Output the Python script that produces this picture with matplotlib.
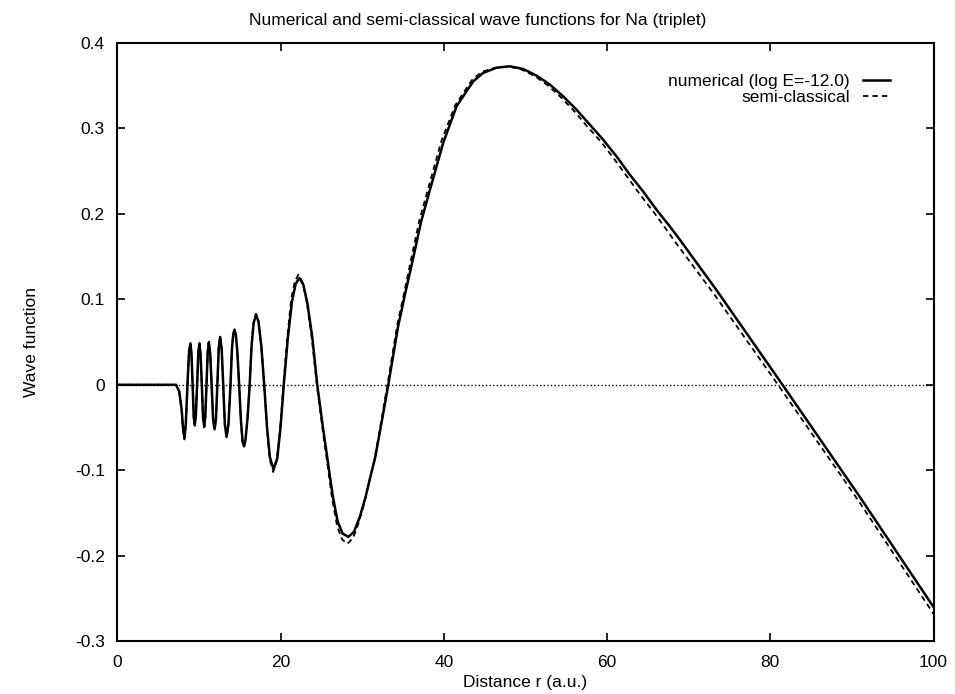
import matplotlib
matplotlib.use("Agg")
import matplotlib.pyplot as plt

plt.rcParams["font.family"] = ["Liberation Sans", "DejaVu Sans"]
plt.rcParams["font.size"] = 12.5

# numerical wave function (r in a.u.)
r_num = [0, 7.2, 7.6, 7.9, 8.05, 8.23, 8.4, 8.6, 8.8, 8.97, 9.1, 9.23, 9.37, 9.50,
         9.63, 9.78, 9.93, 10.07, 10.2, 10.36, 10.51, 10.65, 10.79, 10.93, 11.08,
         11.22, 11.38, 11.56, 11.74, 11.92, 12.09, 12.26, 12.43, 12.60, 12.79, 12.98,
         13.18, 13.39, 13.62, 13.87, 14.05, 14.22, 14.37, 14.52, 14.7, 14.93, 15.15,
         15.35, 15.52, 15.7, 15.95, 16.22, 16.45, 16.7, 16.99, 17.3, 17.65, 18.0,
         18.35, 18.7, 19.15, 19.6, 20.0, 20.4, 20.9, 21.4, 21.85, 22.3, 22.8, 23.3,
         23.9, 24.5, 25.2, 25.8, 26.4, 27.0, 27.6, 28.3, 29.0, 29.7, 30.4, 31.0, 31.6,
         32.4, 33.2, 34.4, 35.3, 36.2, 37.2, 38.3, 39.93, 41.57, 43.6, 44.83, 46.47,
         48.1, 49.72, 51.37, 53.0, 54.62, 56.26, 57.89, 59.52, 61.16, 62.79, 64.42,
         66.06, 67.69, 68.92, 73.4, 81.5, 90.96, 100]
psi_num = [0, 0, -0.008, -0.03, -0.05, -0.062, -0.045, 0.0, 0.04, 0.048, 0.035, 0.0,
           -0.038, -0.047, -0.035, 0.0, 0.038, 0.048, 0.036, 0.0, -0.038, -0.049,
           -0.036, 0.0, 0.038, 0.0495, 0.037, 0.0, -0.04, -0.052, -0.04, 0.0, 0.043,
           0.056, 0.042, 0.0, -0.046, -0.061, -0.046, 0.0, 0.042, 0.06, 0.064, 0.059,
           0.04, 0.0, -0.042, -0.066, -0.072, -0.065, -0.04, 0.0, 0.045, 0.072,
           0.082, 0.074, 0.045, 0.0, -0.05, -0.085, -0.099, -0.086, -0.05, 0.0, 0.055,
           0.097, 0.118, 0.125, 0.117, 0.095, 0.055, 0.0, -0.05, -0.09, -0.13, -0.16,
           -0.174, -0.178, -0.172, -0.155, -0.132, -0.108, -0.085, -0.043, 0.0,
           0.068, 0.108, 0.146, 0.19, 0.228, 0.283, 0.326, 0.355, 0.365, 0.371,
           0.3727, 0.3696, 0.3618, 0.3513, 0.3376, 0.322, 0.3044, 0.2869, 0.2673,
           0.2459, 0.2263, 0.2049, 0.1854, 0.1698, 0.111, 0.0, -0.131, -0.260]

# semi-classical approximation
r_semi = [0, 7.2, 7.6, 7.9, 8.05, 8.23, 8.4, 8.6, 8.8, 8.97, 9.1, 9.23, 9.37, 9.50,
          9.63, 9.78, 9.93, 10.07, 10.2, 10.36, 10.51, 10.65, 10.79, 10.93, 11.08,
          11.22, 11.38, 11.56, 11.74, 11.92, 12.09, 12.26, 12.43, 12.60, 12.79, 12.98,
          13.18, 13.39, 13.62, 13.87, 14.05, 14.22, 14.37, 14.52, 14.7, 14.93, 15.15,
          15.35, 15.52, 15.7, 15.95, 16.22, 16.45, 16.7, 16.99, 17.3, 17.65, 18.0,
          18.35, 18.7, 19.1, 19.55, 19.95, 20.35, 20.85, 21.3, 21.75, 22.2, 22.7,
          23.2, 23.8, 24.45, 25.15, 25.75, 26.35, 26.95, 27.55, 28.2, 28.9, 29.6,
          30.3, 30.9, 31.5, 32.3, 33.1, 34.3, 35.2, 36.0, 37.0, 38.1, 39.7, 41.4,
          43.4, 44.6, 46.3, 47.9, 49.5, 51.2, 52.8, 54.4, 56.0, 57.6, 59.3, 60.9,
          62.5, 64.1, 65.8, 67.4, 68.6, 73.2, 80.95, 90.9, 100]
psi_semi = [0, 0, -0.009, -0.032, -0.052, -0.064, -0.046, 0.0, 0.041, 0.049, 0.036,
            0.0, -0.039, -0.048, -0.036, 0.0, 0.039, 0.049, 0.037, 0.0, -0.039, -0.05,
            -0.037, 0.0, 0.039, 0.0505, 0.038, 0.0, -0.041, -0.053, -0.041, 0.0, 0.044,
            0.057, 0.043, 0.0, -0.047, -0.062, -0.047, 0.0, 0.043, 0.061, 0.065, 0.06,
            0.041, 0.0, -0.043, -0.067, -0.073, -0.066, -0.041, 0.0, 0.046, 0.073,
            0.083, 0.075, 0.046, 0.0, -0.052, -0.088, -0.102, -0.088, -0.052, 0.0,
            0.057, 0.1, 0.121, 0.129, 0.12, 0.098, 0.057, 0.0, -0.052, -0.093, -0.135,
            -0.166, -0.181, -0.186, -0.179, -0.161, -0.137, -0.112, -0.088, -0.045,
            0.0, 0.07, 0.11, 0.147, 0.192, 0.230, 0.285, 0.327, 0.356, 0.366, 0.371,
            0.3725, 0.369, 0.361, 0.350, 0.336, 0.320, 0.302, 0.284, 0.264, 0.243,
            0.222, 0.201, 0.180, 0.164, 0.105, 0.0, -0.137, -0.268]

x_ticks = [0, 20, 40, 60, 80, 100]
y_ticks = [-0.3, -0.2, -0.1, 0, 0.1, 0.2, 0.3, 0.4]
y_labels = ["-0.3", "-0.2", "-0.1", "0", "0.1", "0.2", "0.3", "0.4"]

fig = plt.figure(figsize=(9.55, 6.94), dpi=100)
ax = fig.add_axes([0.1228, 0.0761, 0.8547, 0.862])

ax.axhline(0, color="black", lw=1.0, ls=(0, (1, 1.6)))
ax.plot(r_num, psi_num, color="black", lw=1.8, label="numerical (log E=-12.0)")
ax.plot(r_semi, psi_semi, color="black", lw=1.3, ls=(0, (3, 2.2)),
        label="semi-classical")

ax.set_xlim(0, 100)
ax.set_ylim(-0.3, 0.4)
ax.set_xticks(x_ticks)
ax.set_xticklabels([str(t) for t in x_ticks])
ax.set_yticks(y_ticks)
ax.set_yticklabels(y_labels)
ax.tick_params(direction="in", length=6, width=1.2, top=True, right=True)
ax.tick_params(axis="x", pad=10)
ax.tick_params(axis="y", pad=9)
for s in ax.spines.values():
    s.set_linewidth(1.5)

ax.legend(loc="upper right", bbox_to_anchor=(0.9467, 0.948), frameon=False,
          markerfirst=False, handlelength=1.55, handletextpad=0.75,
          borderpad=0, borderaxespad=0, labelspacing=0.05)

fig.text(0.5, 0.971, "Numerical and semi-classical wave functions for Na (triplet)",
         ha="center", va="center")
fig.text(0.5502, 0.016, "Distance r (a.u.)", ha="center", va="center")
fig.text(0.0325, 0.507, "Wave function", ha="center", va="center", rotation=90)

fig.savefig("out.png", dpi=100)
